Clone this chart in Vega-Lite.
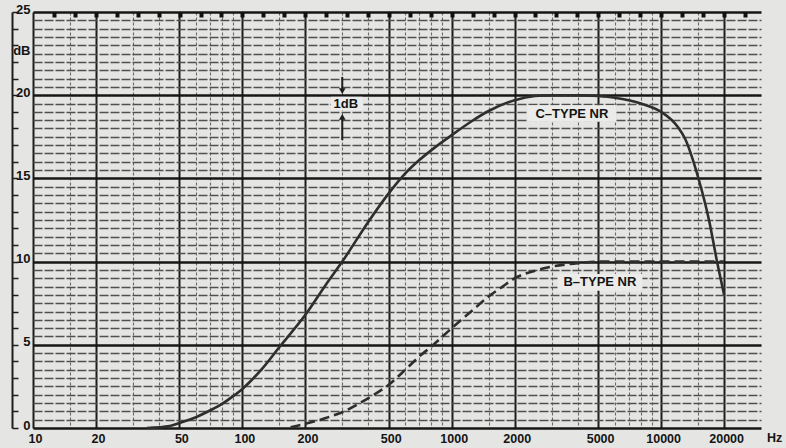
{
  "$schema": "https://vega.github.io/schema/vega-lite/v6.json",
  "width": 728,
  "height": 416,
  "autosize": {"type": "none"},
  "padding": {"left": 33, "top": 12, "right": 25, "bottom": 20},
  "background": "#e5e5e3",
  "config": {
    "view": {"stroke": null},
    "axis": {"labelFont": "Liberation Sans", "labelFontWeight": "bold", "labelColor": "#141414", "titleFont": "Liberation Sans"},
    "text": {"font": "Liberation Sans", "fontWeight": "bold", "color": "#141414"}
  },
  "datasets": {
    "ctype": [
      {"f": 35, "db": 0},
      {"f": 45, "db": 0.12},
      {"f": 50, "db": 0.3},
      {"f": 60, "db": 0.65},
      {"f": 70, "db": 1.05},
      {"f": 80, "db": 1.45},
      {"f": 90, "db": 1.9},
      {"f": 100, "db": 2.35},
      {"f": 125, "db": 3.6},
      {"f": 150, "db": 4.85},
      {"f": 200, "db": 6.8},
      {"f": 250, "db": 8.6},
      {"f": 300, "db": 10.0},
      {"f": 400, "db": 12.4},
      {"f": 500, "db": 14.1},
      {"f": 600, "db": 15.3},
      {"f": 700, "db": 16.1},
      {"f": 800, "db": 16.7},
      {"f": 1000, "db": 17.6},
      {"f": 1250, "db": 18.45},
      {"f": 1500, "db": 19.05},
      {"f": 2000, "db": 19.7},
      {"f": 2500, "db": 19.95},
      {"f": 3000, "db": 20.0},
      {"f": 4000, "db": 20.0},
      {"f": 5000, "db": 19.95},
      {"f": 6000, "db": 19.85},
      {"f": 7000, "db": 19.7},
      {"f": 8000, "db": 19.5},
      {"f": 10000, "db": 19.0},
      {"f": 12000, "db": 18.1},
      {"f": 13000, "db": 17.4},
      {"f": 15000, "db": 15.1},
      {"f": 17000, "db": 12.4},
      {"f": 18500, "db": 10.0},
      {"f": 20000, "db": 8.0}
    ],
    "btype": [
      {"f": 170, "db": 0.05},
      {"f": 200, "db": 0.25},
      {"f": 250, "db": 0.6},
      {"f": 300, "db": 0.95},
      {"f": 400, "db": 1.8},
      {"f": 500, "db": 2.6},
      {"f": 600, "db": 3.5},
      {"f": 700, "db": 4.3},
      {"f": 800, "db": 4.9},
      {"f": 1000, "db": 6.0},
      {"f": 1250, "db": 7.05},
      {"f": 1500, "db": 7.9},
      {"f": 1750, "db": 8.5},
      {"f": 2000, "db": 9.0},
      {"f": 2500, "db": 9.45},
      {"f": 3000, "db": 9.7},
      {"f": 4000, "db": 9.9},
      {"f": 5000, "db": 10.0},
      {"f": 10000, "db": 10.0},
      {"f": 20000, "db": 10.0}
    ],
    "boxes": [
      {"f1": 2300, "f2": 6100, "d1": 18.4, "d2": 19.4},
      {"f1": 3200, "f2": 8150, "d1": 8.25, "d2": 9.25},
      {"f1": 265, "f2": 375, "d1": 19.1, "d2": 19.9}
    ],
    "labels": [
      {"f": 3750, "db": 18.87, "text": "C–TYPE NR"},
      {"f": 5100, "db": 8.75, "text": "B–TYPE NR"},
      {"f": 312, "db": 19.47, "text": "1dB"}
    ],
    "shafts": [
      {"f": 300, "d1": 21.1, "d2": 20.3},
      {"f": 300, "d1": 17.3, "d2": 18.6}
    ],
    "heads": [
      {"f": 300, "db": 20.25, "dir": "down"},
      {"f": 300, "db": 18.7, "dir": "up"}
    ],
    "unit": [
      {"f": 30000, "db": 0, "text": "Hz"}
    ]
  },
  "layer": [
    {
      "data": {"name": "btype"},
      "mark": {"type": "line", "strokeDash": [10, 5], "strokeWidth": 2.6, "color": "#2e2e2e", "interpolate": "monotone"},
      "encoding": {
        "x": {
          "field": "f", "type": "quantitative",
          "scale": {"type": "log", "domain": [10, 30000], "nice": false},
          "axis": {
            "orient": "bottom", "title": null, "labels": false, "ticks": false, "domain": false,
            "grid": true, "gridColor": "#6a6a6a", "gridWidth": 1.1, "gridDash": [3, 2],
            "values": [15, 30, 40, 60, 70, 80, 90, 150, 300, 400, 600, 700, 800, 900, 1500, 3000, 4000, 6000, 7000, 8000, 9000, 15000]
          }
        },
        "y": {
          "field": "db", "type": "quantitative",
          "scale": {"domain": [0, 25], "nice": false, "zero": true},
          "axis": {
            "orient": "left", "title": null, "labels": false, "ticks": false, "domain": false,
            "grid": true, "gridColor": "#505050", "gridWidth": 1.3, "gridDash": [9, 2],
            "values": [0.5, 1, 1.5, 2, 2.5, 3, 3.5, 4, 4.5, 5.5, 6, 6.5, 7, 7.5, 8, 8.5, 9, 9.5, 10.5, 11, 11.5, 12, 12.5, 13, 13.5, 14, 14.5, 15.5, 16, 16.5, 17, 17.5, 18, 18.5, 19, 19.5, 20.5, 21, 21.5, 22, 22.5, 23, 23.5, 24, 24.5]
          }
        }
      }
    },
    {
      "data": {"name": "ctype"},
      "mark": {"type": "line", "strokeWidth": 2.6, "color": "#2e2e2e", "interpolate": "monotone"},
      "encoding": {
        "x": {
          "field": "f", "type": "quantitative",
          "scale": {"type": "log", "domain": [10, 30000], "nice": false},
          "axis": {
            "orient": "bottom", "title": null, "ticks": false, "domain": false,
            "grid": true, "gridColor": "#1c1c1c", "gridWidth": 2,
            "values": [10, 20, 50, 100, 200, 500, 1000, 2000, 5000, 10000, 20000],
            "format": "d", "labelFontSize": 12.5, "labelPadding": 4, "labelFlush": false, "labelOverlap": false, "labelOffset": 2
          }
        },
        "y": {
          "field": "db", "type": "quantitative",
          "scale": {"domain": [0, 25], "nice": false, "zero": true},
          "axis": {
            "orient": "left", "title": null, "ticks": false, "domain": false,
            "grid": true, "gridColor": "#161616", "gridWidth": 2.4,
            "gridOpacity": {"condition": {"test": "datum.value == 22.5", "value": 0}, "value": 1},
            "values": [0, 5, 10, 15, 20, 22.5, 25],
            "labelExpr": "datum.value == 22.5 ? 'dB' : datum.label",
            "labelFontSize": 13, "labelPadding": 3, "labelOffset": -3
          }
        }
      }
    },
    {
      "data": {"name": "boxes"},
      "mark": {"type": "rect", "color": "#ebebe9"},
      "encoding": {
        "x": {"field": "f1", "type": "quantitative", "scale": {"type": "log", "domain": [10, 30000], "nice": false}, "axis": null},
        "x2": {"field": "f2"},
        "y": {"field": "d1", "type": "quantitative", "scale": {"domain": [0, 25], "nice": false}, "axis": null},
        "y2": {"field": "d2"}
      }
    },
    {
      "data": {"name": "labels"},
      "mark": {"type": "text", "fontSize": 13, "align": "center", "baseline": "middle"},
      "encoding": {
        "x": {"field": "f", "type": "quantitative", "scale": {"type": "log", "domain": [10, 30000], "nice": false}, "axis": null},
        "y": {"field": "db", "type": "quantitative", "scale": {"domain": [0, 25], "nice": false}, "axis": null},
        "text": {"field": "text"}
      }
    },
    {
      "data": {"name": "shafts"},
      "mark": {"type": "rule", "strokeWidth": 2, "color": "#1e1e1e"},
      "encoding": {
        "x": {
          "field": "f", "type": "quantitative",
          "scale": {"type": "log", "domain": [10, 30000], "nice": false},
          "axis": {
            "orient": "top", "title": null, "labels": false, "domain": false, "grid": false,
            "ticks": true, "tickSize": -5, "tickWidth": 4, "tickColor": "#111111",
            "values": [12.59, 15.85, 19.95, 25.12, 31.62, 39.81, 50.12, 63.1, 79.43, 100, 125.9, 158.5, 199.5, 251.2, 316.2, 398.1, 501.2, 631, 794.3, 1000, 1259, 1585, 1995, 2512, 3162, 3981, 5012, 6310, 7943, 10000, 12589, 15849, 19953, 25119]
          }
        },
        "y": {
          "field": "d1", "type": "quantitative",
          "scale": {"domain": [0, 25], "nice": false},
          "axis": {
            "orient": "left", "offset": 21, "title": null, "labels": false, "grid": false,
            "domain": true, "domainColor": "#1e1e1e", "domainWidth": 2,
            "ticks": true, "tickSize": -6, "tickWidth": 1.5, "tickColor": "#1e1e1e",
            "values": [0, 1, 2, 3, 4, 5, 6, 7, 8, 9, 10, 11, 12, 13, 14, 15, 16, 17, 18, 19, 20, 21, 22, 23, 24, 25]
          }
        },
        "y2": {"field": "d2"}
      }
    },
    {
      "data": {"name": "heads"},
      "mark": {"type": "point", "filled": true, "size": 45, "color": "#1e1e1e", "opacity": 1},
      "encoding": {
        "x": {"field": "f", "type": "quantitative", "scale": {"type": "log", "domain": [10, 30000], "nice": false}, "axis": null},
        "y": {"field": "db", "type": "quantitative", "scale": {"domain": [0, 25], "nice": false}, "axis": null},
        "shape": {"field": "dir", "type": "nominal", "scale": {"domain": ["down", "up"], "range": ["triangle-down", "triangle-up"]}, "legend": null}
      }
    },
    {
      "data": {"name": "unit"},
      "mark": {"type": "text", "fontSize": 12.5, "align": "left", "baseline": "middle", "dx": 6, "dy": 10},
      "encoding": {
        "x": {"field": "f", "type": "quantitative", "scale": {"type": "log", "domain": [10, 30000], "nice": false}, "axis": null},
        "y": {"field": "db", "type": "quantitative", "scale": {"domain": [0, 25], "nice": false}, "axis": null},
        "text": {"field": "text"}
      }
    }
  ],
  "resolve": {"axis": {"x": "independent", "y": "independent"}}
}
